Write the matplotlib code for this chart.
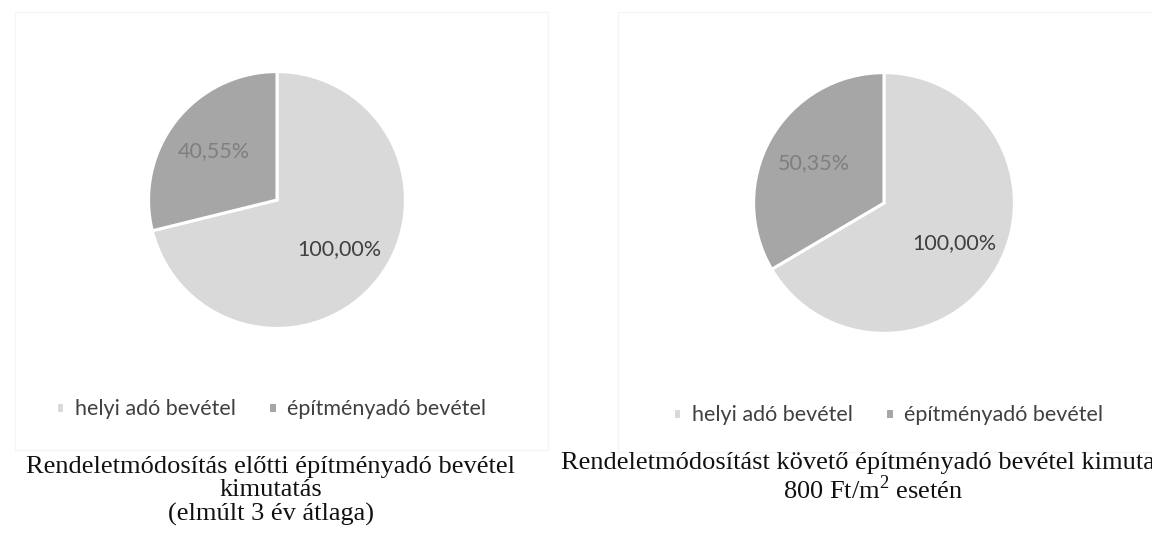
import matplotlib.pyplot as plt
from matplotlib.patches import Rectangle

# adatok
kategoriak = ["helyi adó bevétel", "építményadó bevétel"]
ertekek_elotte = [100.00, 40.55]
ertekek_utana = [100.00, 50.35]
cimkek_elotte = ["100,00%", "40,55%"]
cimkek_utana = ["100,00%", "50,35%"]
cim_elotte = "Rendeletmódosítás előtti építményadó bevétel\nkimutatás\n(elmúlt 3 év átlaga)"
cim_utana = "Rendeletmódosítást követő építményadó bevétel kimutatás\n800 Ft/m$^{2}$ esetén"

szinek = ["#d9d9d9", "#a6a6a6"]
cimke_szinek = ["#404040", "#7f7f7f"]

plt.rcParams['mathtext.fontset'] = 'custom'
plt.rcParams['mathtext.rm'] = 'Liberation Serif'

W, H = 1152, 542
fig = plt.figure(figsize=(W / 100, H / 100), dpi=100)


def px_axes(cx, cy, r):
    # tengely pixelben megadva (felülről mért y)
    return fig.add_axes([(cx - r) / W, 1 - (cy + r) / H, 2 * r / W, 2 * r / H])


def kor(ax, ertekek, cimkek, lx, ly):
    wedges, texts = ax.pie(ertekek, labels=cimkek, colors=szinek, startangle=90,
                           counterclock=False, labeldistance=0.62,
                           wedgeprops=dict(edgecolor="white", linewidth=2.2),
                           textprops=dict(family="Lato", fontsize=15.5))
    for t, c in zip(texts, cimke_szinek):
        t.set_color(c)
        t.set_ha("center")
        t.set_va("center")
    ax.set_xlim(-1.02, 1.02)
    ax.set_ylim(-1.02, 1.02)
    ax.set_aspect("equal")
    fig.legend(wedges, kategoriak, loc="center", bbox_to_anchor=(lx / W, 1 - ly / H),
               ncol=2, frameon=False, prop=dict(family="Lato", size=15.5),
               labelcolor="#404040", handlelength=0.4, handleheight=0.4,
               handletextpad=0.5, columnspacing=1.5)
    return wedges


# halvány keretek
fig.patches.append(Rectangle((15 / W, 1 - 450 / H), 533 / W, 438 / H, transform=fig.transFigure,
                             fill=False, edgecolor="#f5f5f5", linewidth=1))
fig.patches.append(Rectangle((618 / W, 1 - 452 / H), 560 / W, 440 / H, transform=fig.transFigure,
                             fill=False, edgecolor="#f5f5f5", linewidth=1))

ax1 = px_axes(277, 200, 131)
kor(ax1, ertekek_elotte, cimkek_elotte, 271, 409)

ax2 = px_axes(884, 203, 133)
kor(ax2, ertekek_utana, cimkek_utana, 888, 415)

fig.text(271 / W, 1 - 491 / H, cim_elotte, ha="center", va="center", multialignment="center",
         family="Liberation Serif", fontsize=19, color="#111111", linespacing=1.1)
fig.text(873 / W, 1 - 478 / H, cim_utana, ha="center", va="center", multialignment="center",
         family="Liberation Serif", fontsize=19, color="#111111", linespacing=1.05)

plt.savefig("out.png", dpi=100, facecolor="white")
print("done")
